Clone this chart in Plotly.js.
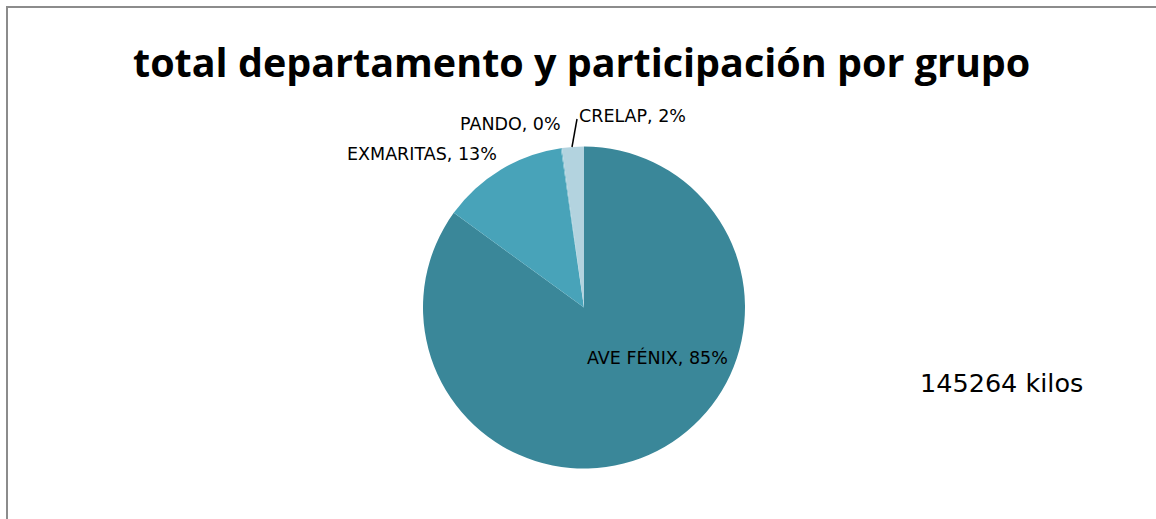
<!DOCTYPE html>
<html>
<head>
<meta charset="utf-8">
<script src="https://cdn.plot.ly/plotly-3.0.1.min.js"></script>
<style>html,body{margin:0;padding:0;background:#fff;}#chart{width:1156px;height:519px;}</style>
</head>
<body>
<div id="chart"></div>
<script>
const categories = ["AVE FÉNIX", "EXMARITAS", "PANDO", "CRELAP"];
const values = [123480, 18450, 150, 3184];
const colors = ["#3a8799", "#48a3b9", "#6fb7c9", "#b3d3df"];
const unitLabel = "kilos";
const titleText = "total departamento y participación por grupo";

const W = 1156, H = 519;
const px = x => x / W;
const py = y => 1 - y / H;

const total = values.reduce((a, b) => a + b, 0);
const pct = values.map(v => Math.round(v / total * 100) + "%");
const labelText = categories.map((c, i) => c + ", " + pct[i]);

// label anchor positions (pixels) per category
const labelPos = [
  {x: 657, y: 357},
  {x: 422, y: 154},
  {x: 510, y: 124},
  {x: 632, y: 116}
];

const labelFont = {family: "DejaVu Sans", size: 17.5, color: "#000"};

const annotations = labelText.map((t, i) => ({
  text: t, xref: "paper", yref: "paper",
  x: px(labelPos[i].x), y: py(labelPos[i].y),
  xanchor: "center", yanchor: "middle",
  showarrow: false, font: labelFont
}));
annotations.push({
  text: total + " " + unitLabel, xref: "paper", yref: "paper",
  x: px(1001), y: py(383), xanchor: "center", yanchor: "middle",
  showarrow: false, font: {family: "DejaVu Sans", size: 25.5, color: "#000"}
});
annotations.push({
  text: "<b>" + titleText + "</b>", xref: "paper", yref: "paper",
  x: px(581), y: py(62), xanchor: "center", yanchor: "middle",
  showarrow: false, font: {family: "Open Sans", size: 39.5, color: "#000"}
});

const data = [{
  type: "pie",
  labels: categories,
  values: values,
  sort: false,
  direction: "clockwise",
  rotation: 0,
  textinfo: "none",
  hoverinfo: "label+percent",
  marker: {colors: colors, line: {width: 0}},
  domain: {x: [px(423), px(745)], y: [py(469), py(146)]},
  showlegend: false
}];

const layout = {
  width: W, height: H,
  margin: {l: 0, r: 0, t: 0, b: 0},
  paper_bgcolor: "#fff",
  showlegend: false,
  annotations: annotations,
  shapes: [
    {type: "line", xref: "paper", yref: "paper", x0: px(7), x1: px(7), y0: py(7), y1: py(530), line: {color: "#8c8c8c", width: 2}},
    {type: "line", xref: "paper", yref: "paper", x0: px(6), x1: px(1160), y0: py(7), y1: py(7), line: {color: "#8c8c8c", width: 2}},
    {type: "line", xref: "paper", yref: "paper", x0: px(577), x1: px(572), y0: py(119), y1: py(147), line: {color: "#000", width: 1.5}}
  ]
};

Plotly.newPlot("chart", data, layout, {staticPlot: true});
</script>
</body>
</html>
